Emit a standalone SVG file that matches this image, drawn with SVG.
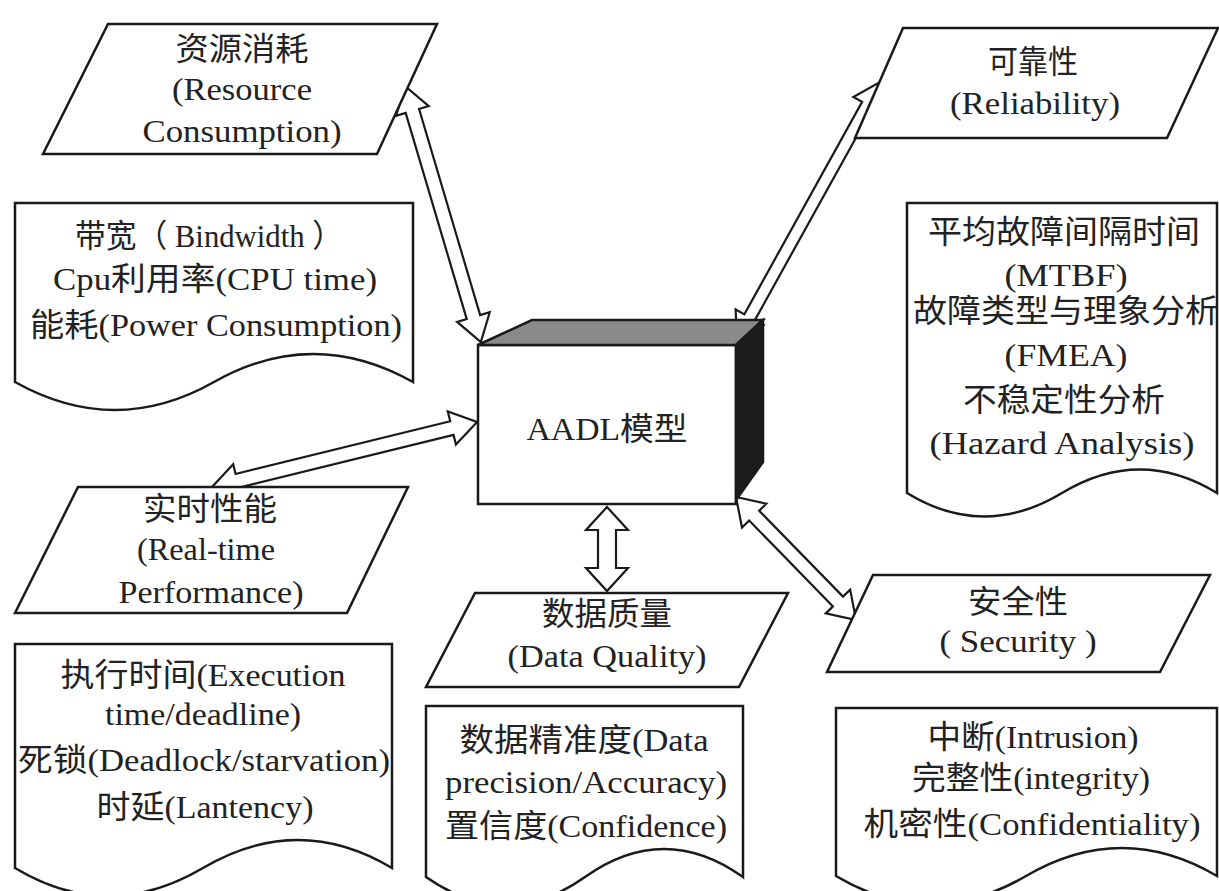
<svg xmlns="http://www.w3.org/2000/svg" width="1219" height="891" viewBox="0 0 1219 891">
<style>
.s{fill:#fff;stroke:#1a1a1a;stroke-width:2.5;stroke-linejoin:miter}
.a{fill:#fff;stroke:#1a1a1a;stroke-width:2.2;stroke-linejoin:miter}
.t{font-family:"Liberation Serif","Noto Sans CJK SC",serif;font-size:32px;text-anchor:middle;fill:#222}
</style>
<rect width="1219" height="891" fill="#fff"/>
<g id="connectors">
<g transform="translate(405,86) rotate(73.5)"><path class="a" d="M0,0 L26,-17 L26,-7 L241,-7 L241,-17 L267,0 L241,17 L241,7 L26,7 L26,17 Z"/></g>
<g transform="translate(880,82) rotate(119)"><path class="a" d="M0,0 L26,-16 L26,-6 L269,-6 L269,-16 L295,0 L269,16 L269,6 L26,6 L26,16 Z"/></g>
<g transform="translate(212,487) rotate(-13.8)"><path class="a" d="M0,0 L26,-17 L26,-7 L247,-7 L247,-17 L273,0 L247,17 L247,7 L26,7 L26,17 Z"/></g>
<g transform="translate(607,507) rotate(90)"><path class="a" d="M0,0 L23,-21 L23,-9 L61,-9 L61,-21 L84,0 L61,21 L61,9 L23,9 L23,21 Z"/></g>
<g transform="translate(736,497) rotate(45.7)"><path class="a" d="M0,0 L26,-17 L26,-7 L146,-7 L146,-17 L172,0 L146,17 L146,7 L26,7 L26,17 Z"/></g>
</g>
<g id="resource">
<polygon class="s" points="108,24 437,24 377,154 43,154"/>
<text class="t" x="242" y="60" textLength="133" lengthAdjust="spacingAndGlyphs">资源消耗</text>
<text class="t" x="242" y="100" textLength="140" lengthAdjust="spacingAndGlyphs">(Resource</text>
<text class="t" x="242" y="142" textLength="199" lengthAdjust="spacingAndGlyphs">Consumption)</text>
</g>
<g id="resource-detail">
<path class="s" d="M15,382 V203 H413 V382 Q313,326 214,382 T15,382 Z"/>
<text class="t" x="209" y="247" textLength="268" lengthAdjust="spacingAndGlyphs">带宽（ Bindwidth ）</text>
<text class="t" x="215" y="290" textLength="324" lengthAdjust="spacingAndGlyphs">Cpu利用率(CPU time)</text>
<text class="t" x="216" y="336" textLength="372" lengthAdjust="spacingAndGlyphs">能耗(Power Consumption)</text>
</g>
<g id="aadl">
<rect class="s" x="478" y="345" width="258" height="159"/>
<polygon points="478,345 532,320 763,320 736,345" fill="#8a8a8a" stroke="#1a1a1a" stroke-width="2.5"/>
<polygon points="736,345 763,320 763,462 736,500" fill="#1c1c1c" stroke="#1a1a1a" stroke-width="2.5"/>
<text class="t" x="607" y="440" textLength="161" lengthAdjust="spacingAndGlyphs">AADL模型</text>
</g>
<g id="reliability">
<polygon class="s" points="903,28 1218,28 1167,138 855,138"/>
<text class="t" x="1033" y="73" textLength="90" lengthAdjust="spacingAndGlyphs">可靠性</text>
<text class="t" x="1035" y="114" textLength="170" lengthAdjust="spacingAndGlyphs">(Reliability)</text>
</g>
<g id="reliability-detail">
<path class="s" d="M907,493 V203 H1217 V493 Q1140,446 1062,493 T907,493 Z"/>
<text class="t" x="1064" y="243" textLength="272" lengthAdjust="spacingAndGlyphs">平均故障间隔时间</text>
<text class="t" x="1066" y="286" textLength="123" lengthAdjust="spacingAndGlyphs">(MTBF)</text>
<text class="t" x="1066" y="322" textLength="306" lengthAdjust="spacingAndGlyphs">故障类型与理象分析</text>
<text class="t" x="1066" y="366" textLength="123" lengthAdjust="spacingAndGlyphs">(FMEA)</text>
<text class="t" x="1064" y="411" textLength="202" lengthAdjust="spacingAndGlyphs">不稳定性分析</text>
<text class="t" x="1062" y="454" textLength="265" lengthAdjust="spacingAndGlyphs">(Hazard Analysis)</text>
</g>
<g id="realtime">
<polygon class="s" points="78,487 408,487 347,613 15,613"/>
<text class="t" x="210" y="520" textLength="134" lengthAdjust="spacingAndGlyphs">实时性能</text>
<text class="t" x="206" y="560" textLength="138" lengthAdjust="spacingAndGlyphs">(Real-time</text>
<text class="t" x="211" y="603" textLength="185" lengthAdjust="spacingAndGlyphs">Performance)</text>
</g>
<g id="realtime-detail">
<path class="s" d="M15,868 V644 H392 V868 Q298,812 203,868 T15,868 Z"/>
<text class="t" x="203" y="686" textLength="285" lengthAdjust="spacingAndGlyphs">执行时间(Execution</text>
<text class="t" x="203" y="725" textLength="196" lengthAdjust="spacingAndGlyphs">time/deadline)</text>
<text class="t" x="204" y="771" textLength="372" lengthAdjust="spacingAndGlyphs">死锁(Deadlock/starvation)</text>
<text class="t" x="205" y="818" textLength="217" lengthAdjust="spacingAndGlyphs">时延(Lantency)</text>
</g>
<g id="dataquality">
<polygon class="s" points="475,593 788,593 739,687 426,687"/>
<text class="t" x="607" y="625" textLength="130" lengthAdjust="spacingAndGlyphs">数据质量</text>
<text class="t" x="607" y="667" textLength="199" lengthAdjust="spacingAndGlyphs">(Data Quality)</text>
</g>
<g id="dataquality-detail">
<path class="s" d="M426,877 V706 H743 V877 Q664,821 585,877 T426,877 Z"/>
<text class="t" x="584" y="751" textLength="249" lengthAdjust="spacingAndGlyphs">数据精准度(Data</text>
<text class="t" x="586" y="793" textLength="282" lengthAdjust="spacingAndGlyphs">precision/Accuracy)</text>
<text class="t" x="586" y="837" textLength="282" lengthAdjust="spacingAndGlyphs">置信度(Confidence)</text>
</g>
<g id="security">
<polygon class="s" points="873,575 1210,575 1160,672 827,672"/>
<text class="t" x="1018" y="613" textLength="100" lengthAdjust="spacingAndGlyphs">安全性</text>
<text class="t" x="1018" y="652" textLength="157" lengthAdjust="spacingAndGlyphs">( Security )</text>
</g>
<g id="security-detail">
<path class="s" d="M836,876 V708 H1217 V876 Q1122,820 1026,876 T836,876 Z"/>
<text class="t" x="1033" y="748" textLength="211" lengthAdjust="spacingAndGlyphs">中断(Intrusion)</text>
<text class="t" x="1031" y="789" textLength="238" lengthAdjust="spacingAndGlyphs">完整性(integrity)</text>
<text class="t" x="1032" y="835" textLength="337" lengthAdjust="spacingAndGlyphs">机密性(Confidentiality)</text>
</g>
</svg>
